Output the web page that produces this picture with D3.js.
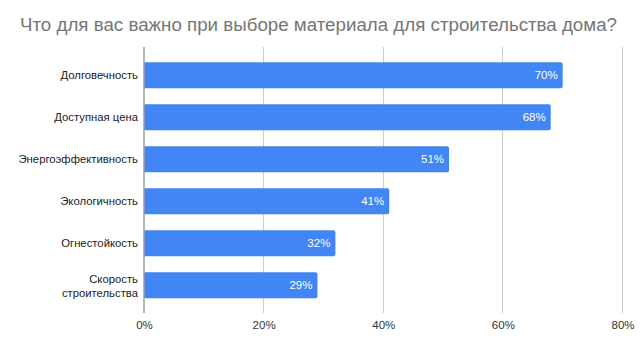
<!DOCTYPE html>
<html><head><meta charset="utf-8">
<script src="https://cdn.jsdelivr.net/npm/d3@7"></script>
<style>body{margin:0;background:#fff}svg{display:block;font-family:"Liberation Sans",Arial,sans-serif}</style>
</head><body>
<svg id="c" width="640" height="348"></svg>
<script>
const title = "Что для вас важно при выборе материала для строительства дома?";
const categories = ["Долговечность","Доступная цена","Энергоэффективность","Экологичность","Огнестойкость","Скорость строительства"];
const values = [70,68,51,41,32,29];
const ticks = [0,20,40,60,80];

const svg = d3.select("#c");
const x = d3.scaleLinear().domain([0,80]).range([144,622.5]);
const y = d3.scaleBand().domain(categories).range([54.3,306.3]).paddingInner(0.38).paddingOuter(0.19);

svg.append("text").attr("x",20).attr("y",31).attr("font-size",17.5).attr("fill","#757575")
  .attr("textLength",597).attr("lengthAdjust","spacingAndGlyphs").text(title);

// gridlines
svg.append("g").selectAll("line").data(ticks.slice(1)).join("line")
  .attr("x1",d=>x(d)).attr("x2",d=>x(d)).attr("y1",47).attr("y2",313)
  .attr("stroke","#cccccc").attr("stroke-width",1).attr("shape-rendering","crispEdges");

const xAxis = d3.axisBottom(x).tickValues(ticks).tickFormat(d=>d+"%").tickSize(0).tickPadding(0);
const gx = svg.append("g").attr("transform","translate(0,329)").call(xAxis);
gx.select(".domain").remove();
gx.selectAll("text").attr("font-size",11.5).attr("fill","#333").attr("font-family","Liberation Sans, Arial, sans-serif").attr("dy","0");

// bars
svg.append("g").selectAll("path").data(values).join("path")
  .attr("fill","#4285f4")
  .attr("d",(d,i)=>{
    const x0=x(0), x1=x(d), y0=y(categories[i]), h=y.bandwidth(), r=2;
    return `M${x0},${y0}H${x1-r}Q${x1},${y0} ${x1},${y0+r}V${y0+h-r}Q${x1},${y0+h} ${x1-r},${y0+h}H${x0}Z`;
  });

// value labels
svg.append("g").selectAll("text").data(values).join("text")
  .attr("x",d=>x(d)-5).attr("y",(d,i)=>y(categories[i])+y.bandwidth()/2+4)
  .attr("text-anchor","end").attr("font-size",11.5).attr("fill","#fff")
  .text(d=>d+"%");

// category labels
const yAxis = d3.axisLeft(y).tickSize(0).tickPadding(6);
const gy = svg.append("g").attr("transform","translate(144,0)").call(yAxis);
gy.select(".domain").remove();
gy.selectAll("text").attr("font-size",11.3).attr("fill","#222").attr("font-family","Liberation Sans, Arial, sans-serif")
  .each(function(d){
    const t=d3.select(this);
    if(d==="Скорость строительства"){
      t.text(null).attr("dy",null);
      t.append("tspan").attr("x",-6).attr("dy","-0.2em").text("Скорость");
      t.append("tspan").attr("x",-6).attr("dy","1.2em").text("строительства");
    }
  });

// axis line
svg.append("line").attr("x1",144).attr("x2",144).attr("y1",47).attr("y2",313)
  .attr("stroke","#9e9e9e").attr("stroke-width",1.5);
</script>
</body></html>
